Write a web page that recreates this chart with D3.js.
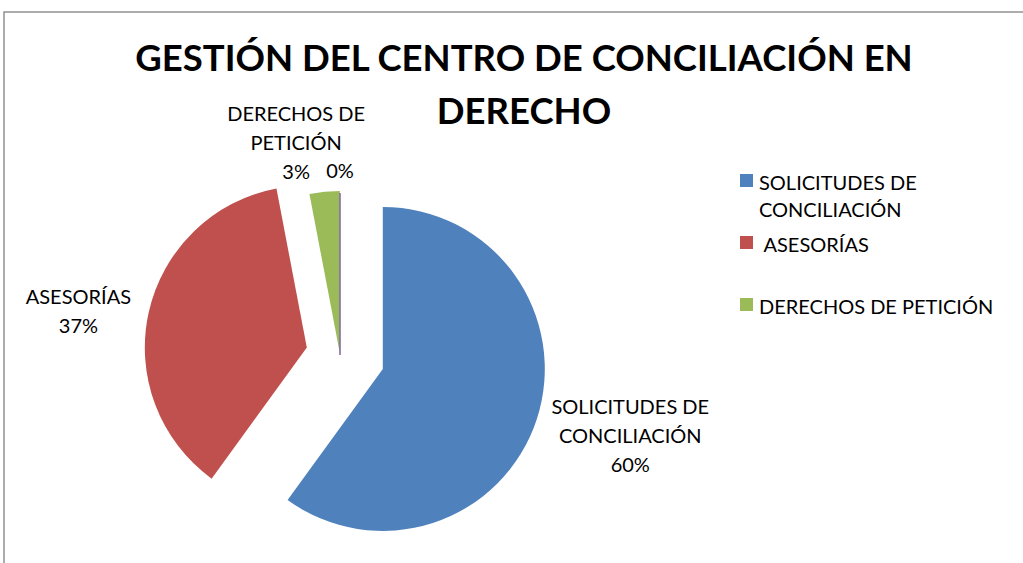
<!DOCTYPE html>
<html lang="es">
<head>
<meta charset="UTF-8">
<title>Gestión del Centro de Conciliación en Derecho</title>
<script src="https://d3js.org/d3.v7.min.js"></script>
<style>
  body { margin: 0; background: #fff; }
  svg text { font-family: Lato, "Noto Sans", sans-serif; fill: #000; }
</style>
</head>
<body>
<svg id="chart" width="1023" height="563"></svg>
<script>
  // data
  const titleLines = ["GESTIÓN DEL CENTRO DE CONCILIACIÓN EN", "DERECHO"];
  const categories = ["SOLICITUDES DE CONCILIACIÓN", "ASESORÍAS", "DERECHOS DE PETICIÓN", ""];
  const legendNames = ["SOLICITUDES DE CONCILIACIÓN", "\u00A0ASESORÍAS", "DERECHOS DE PETICIÓN"];
  const values = [60, 37, 3, 0];

  // styling
  const colors = ["#4F81BD", "#C0504D", "#9BBB59", "#8064A2"];
  const explode = [45, 34, 2, 0];
  const labelRadius = [256, 232, 209, 184];
  const labelShift = [[4, -12], [-2, 15], [-24, -2], [0, 0]];
  const cx = 340, cy = 355, radius = 162;
  const lineH = 29;
  const fontSize = "20px";

  const svg = d3.select("#chart");

  svg.append("rect")
    .attr("x", 4).attr("y", 12)
    .attr("width", 1040).attr("height", 600)
    .attr("fill", "none")
    .attr("stroke", "#8a8a8a")
    .attr("stroke-width", 1.4);

  // title
  svg.append("text")
    .attr("text-anchor", "middle")
    .style("font-weight", "bold")
    .style("font-size", "36.5px")
    .selectAll("tspan")
    .data(titleLines)
    .join("tspan")
    .attr("x", 524)
    .attr("y", (d, i) => 71 + i * 53)
    .text(d => d);

  const total = d3.sum(values);
  const pie = d3.pie().sort(null).value(d => d);
  const arcs = pie(values);
  const arc = d3.arc().innerRadius(0).outerRadius(radius);

  function dir(a) {
    const m = (a.startAngle + a.endAngle) / 2;
    return [Math.sin(m), -Math.cos(m)];
  }

  const g = svg.append("g").attr("transform", `translate(${cx},${cy})`);

  g.selectAll("path")
    .data(arcs)
    .join("path")
    .attr("transform", (d, i) => {
      const [ux, uy] = dir(d);
      return `translate(${ux * explode[i]},${uy * explode[i]})`;
    })
    .attr("d", arc)
    .attr("fill", (d, i) => colors[i])
    .attr("stroke", (d, i) => d.value === 0 ? colors[i] : "none")
    .attr("stroke-width", 1);

  // word wrap helper
  const measure = svg.append("text").style("font-size", fontSize).attr("visibility", "hidden");
  function wrap(str, maxW) {
    const words = str.split(" ");
    const lines = [];
    let cur = "";
    words.forEach(w => {
      const t = cur ? cur + " " + w : w;
      measure.text(t);
      if (cur && measure.node().getComputedTextLength() > maxW) {
        lines.push(cur);
        cur = w;
      } else {
        cur = t;
      }
    });
    if (cur) lines.push(cur);
    return lines;
  }

  // data labels
  arcs.forEach((d, i) => {
    const pct = Math.round(d.value / total * 100) + "%";
    const lines = categories[i] ? wrap(categories[i], 175).concat([pct]) : [pct];
    const [ux, uy] = dir(d);
    const mx = cx + ux * (explode[i] + labelRadius[i]) + labelShift[i][0];
    const my = cy + uy * (explode[i] + labelRadius[i]) + labelShift[i][1];
    const y0 = my - (lines.length - 1) * lineH / 2 + 7;
    svg.append("text")
      .attr("text-anchor", "middle")
      .style("font-size", fontSize)
      .selectAll("tspan")
      .data(lines)
      .join("tspan")
      .attr("x", mx)
      .attr("y", (l, k) => y0 + k * lineH)
      .text(l => l);
  });

  // legend
  const legend = svg.append("g").attr("transform", "translate(740,174)");
  legendNames.forEach((name, i) => {
    const row = legend.append("g").attr("transform", `translate(0,${i * 62})`);
    row.append("rect")
      .attr("width", 13).attr("height", 13)
      .attr("fill", colors[i]);
    row.append("text")
      .style("font-size", fontSize)
      .selectAll("tspan")
      .data(wrap(name, 255))
      .join("tspan")
      .attr("x", 19)
      .attr("y", (l, k) => 16 + k * 27)
      .text(l => l);
  });
  measure.remove();
</script>
</body>
</html>
